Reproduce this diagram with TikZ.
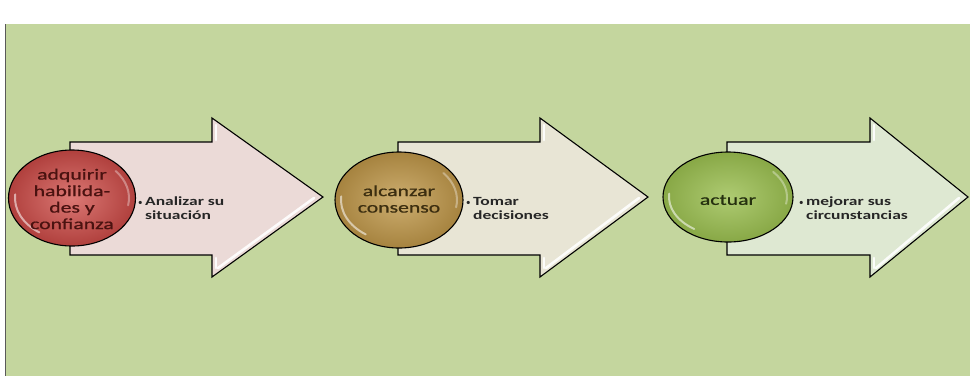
\documentclass[tikz,border=0pt]{standalone}
\usepackage{fontspec}
\setmainfont{Carlito}
\newfontfamily\ellfont{Carlito}[FakeStretch=1.4,FakeBold=0.8]
\newfontfamily\bulfont{Carlito}[FakeStretch=1.4]
\usetikzlibrary{shapes.geometric,calc}
\definecolor{bg}{HTML}{C4D69E}
\definecolor{afillA}{HTML}{EBDAD7}
\definecolor{afillB}{HTML}{E8E5D5}
\definecolor{afillC}{HTML}{DEE8D2}
\definecolor{eAin}{HTML}{DB7874}
\definecolor{eAout}{HTML}{B0403D}
\definecolor{eBin}{HTML}{CDAE70}
\definecolor{eBout}{HTML}{A6833F}
\definecolor{eCin}{HTML}{AECB72}
\definecolor{eCout}{HTML}{88A846}
\definecolor{tA}{HTML}{4A1210}
\definecolor{tB}{HTML}{3C2E10}
\definecolor{tC}{HTML}{25300F}
\definecolor{tbul}{HTML}{262626}
\begin{document}
\begin{tikzpicture}[x=1pt,y=-1pt,
  bigarrow/.style={draw=black,line width=1.1pt,line join=miter},
  bevel/.style={white,opacity=0.9,line width=2.6pt,line cap=round},
  ell/.style={ellipse,draw=black,line width=1.1pt,inner sep=0pt,shading=radial},
  glint/.style={white,opacity=0.55,line width=2pt,line cap=round},
  elltext/.style={align=center,inner sep=0pt,font=\ellfont\fontsize{15.5}{16.5}\selectfont},
  bultext/.style={align=left,inner sep=0pt,anchor=west,text=tbul,font=\bulfont\bfseries\fontsize{12.5}{14}\selectfont}]
\useasboundingbox (0,0) rectangle (970,376);
\fill[white] (0,0) rectangle (970,376);
\fill[bg] (6,24) rectangle (970,376);
\draw[black!65,line width=1.5pt] (5.5,24) -- (5.5,376);

% arrows
\draw[bigarrow,fill=afillA] (70,142) -- (212,142) -- (212,118) -- (323,197) -- (212,277) -- (212,255) -- (70,255) -- cycle;
\draw[bigarrow,fill=afillB] (398,142) -- (540,142) -- (540,118) -- (648,197) -- (540,277) -- (540,255) -- (398,255) -- cycle;
\draw[bigarrow,fill=afillC] (727,142) -- (870,142) -- (870,118) -- (968,197) -- (870,277) -- (870,255) -- (727,255) -- cycle;
% bevel highlights
\foreach \bx/\tx in {212/323,540/648,870/968}{
  \draw[bevel] (\bx+6,268) -- (\tx-9,198);
  \draw[bevel] (\bx+4,125) -- (\bx+4,140);
  \draw[bevel] (\bx+4,258) -- (\bx+4,268);
}

% ellipses
\node[ell,minimum width=127pt,minimum height=96pt,inner color=eAin,outer color=eAout] (e1) at (72,198) {};
\node[ell,minimum width=128pt,minimum height=96pt,inner color=eBin,outer color=eBout] (e2) at (399,200) {};
\node[ell,minimum width=130pt,minimum height=90pt,inner color=eCin,outer color=eCout] (e3) at (728,197) {};
\draw[glint] ($(e1.center)+(125:57 and 42)$) arc[start angle=125,end angle=185,x radius=57,y radius=42];
\draw[glint] ($(e2.center)+(125:58 and 42)$) arc[start angle=125,end angle=185,x radius=58,y radius=42];
\draw[glint] ($(e3.center)+(125:59 and 39)$) arc[start angle=125,end angle=185,x radius=59,y radius=39];
\draw[glint,opacity=0.35] ($(e1.center)+(-40:57 and 42)$) arc[start angle=-40,end angle=10,x radius=57,y radius=42];
\draw[glint,opacity=0.35] ($(e2.center)+(-40:58 and 42)$) arc[start angle=-40,end angle=10,x radius=58,y radius=42];
\draw[glint,opacity=0.35] ($(e3.center)+(-40:59 and 39)$) arc[start angle=-40,end angle=10,x radius=59,y radius=39];

% ellipse texts
\node[elltext,text=tA] (t1) at (72,199) {adquirir\\habilida-\\des y\\confianza};
\node[elltext,text=tB] (t2) at (399,199) {alcanzar\\consenso};
\node[elltext,text=tC] (t3) at (728,200) {actuar};

% bullet texts
\node[bultext] (b1) at (138,208) {\makebox[7pt][l]{\normalfont\small•}Analizar su\\\hspace*{7pt}situación};
\node[bultext] (b2) at (466,208) {\makebox[7pt][l]{\normalfont\small•}Tomar\\\hspace*{7pt}decisiones};
\node[bultext] (b3) at (799,208) {\makebox[7pt][l]{\normalfont\small•}mejorar sus\\\hspace*{7pt}circunstancias};
\end{tikzpicture}
\end{document}
